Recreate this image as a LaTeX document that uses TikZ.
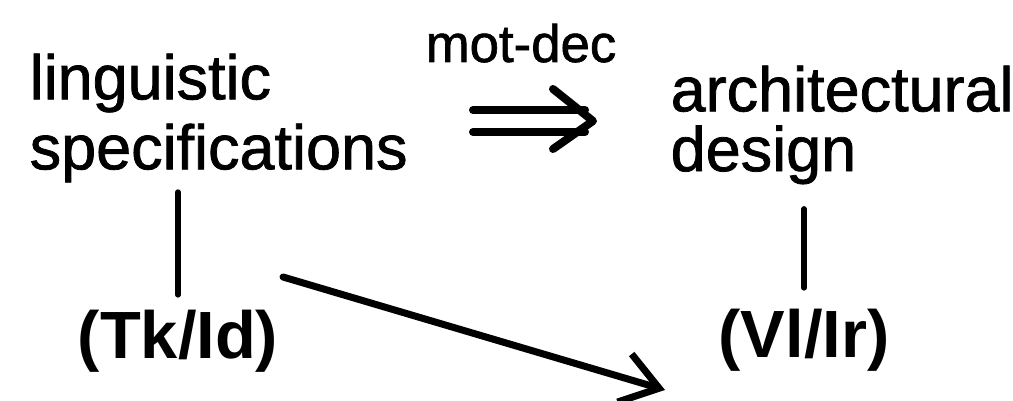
\documentclass[tikz,border=0pt]{standalone}
\usepackage{fontspec}
\setmainfont{Liberation Sans}
\newfontfamily\scanfont[FakeBold=1.2]{Liberation Sans}
\usetikzlibrary{arrows.meta,calc}

\begin{document}
\begin{tikzpicture}[x=0.01cm,y=-0.01cm,
        every node/.style={inner sep=0pt},
        word/.style={font=\scanfont\fontsize{17.9}{19.9}\selectfont, align=left, anchor=north west},
        tag/.style={font=\fontsize{19}{22}\selectfont\bfseries, anchor=base},
        link/.style={line width=0.055cm, line cap=round},
        dbl/.style={line width=0.08cm, line cap=round, line join=round}]
        \useasboundingbox (0,0) rectangle (1013,401);
        \node[word] (specs) at (29,53) {linguistic\\specifications};
        \node[word, font=\scanfont\fontsize{17.9}{17}\selectfont] (arch) at (670,65) {architectural\\design};
        \node[font=\scanfont\fontsize{15}{18}\selectfont, anchor=base] (motdec) at (521,62) {mot-dec};
        \node[tag] (tkid) at (178,359) {(Tk/Id)};
        \node[tag] (vlir) at (804,358) {(Vl/Ir)};
        \coordinate (dblfrom) at (473,121);
        \coordinate (dblto) at (593,121);
        \coordinate (diagfrom) at (283,277);
        \coordinate (diagto) at (665,390);
        \draw[dbl] ($(dblfrom)+(0,-11)$) -- ($(dblto)+(-8,-11)$);
        \draw[dbl] ($(dblfrom)+(0,11)$) -- ($(dblto)+(-8,11)$);
        \draw[dbl] ($(dblto)+(-40,-32)$) -- (dblto) -- ($(dblto)+(-40,28)$);
        \draw[link, shorten <=0.15cm, shorten >=0.09cm] (tkid.north) -- (tkid.north |- specs.south);
        \draw[link, shorten <=0.21cm, shorten >=0.24cm] (vlir.north) -- (vlir.north |- arch.south);
        \draw[link, line width=0.07cm, -{Straight Barb[length=0.36cm,width=0.5cm]}] (diagfrom) -- (diagto);
\end{tikzpicture}
\end{document}
